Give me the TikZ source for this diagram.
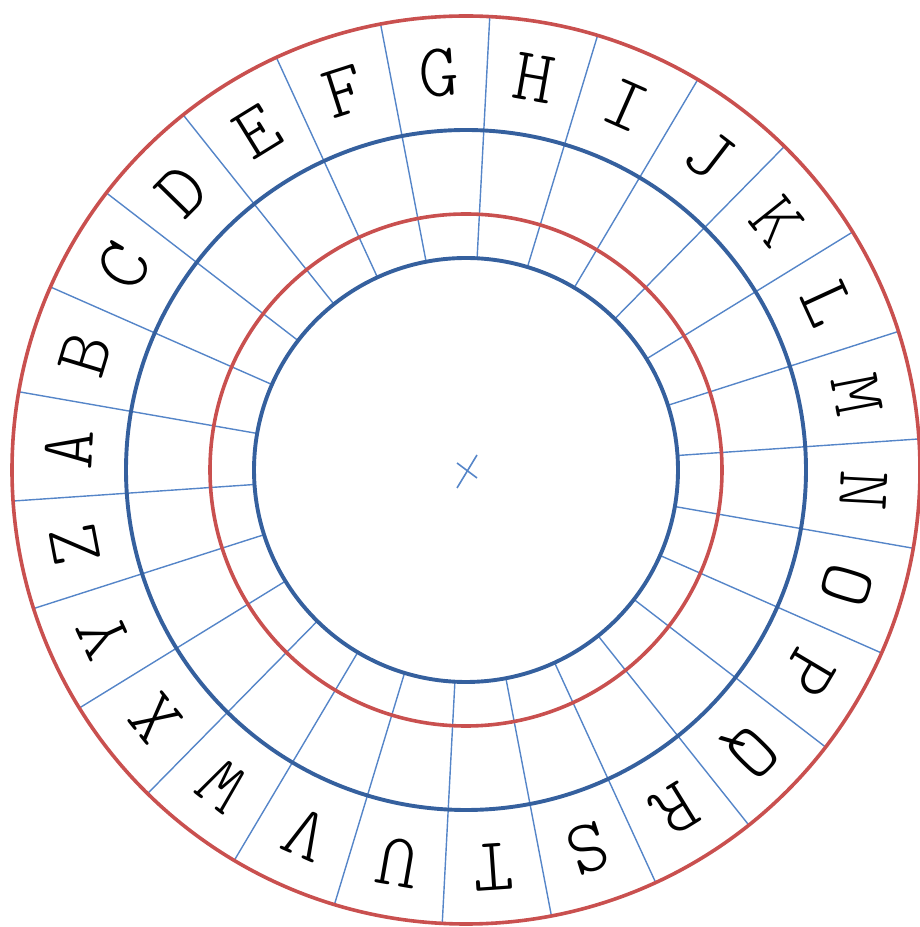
\documentclass[tikz,border=0pt]{standalone}
\usetikzlibrary{calc}
\definecolor{ringred}{HTML}{C9504F}
\definecolor{ringblue}{HTML}{35609E}
\definecolor{spokeblue}{HTML}{5585C8}
\tikzset{
  redring/.style={draw=ringred,line width=3.6pt},
  bluering/.style={draw=ringblue,line width=3.9pt},
  spoke/.style={draw=spokeblue,line width=1.4pt},
  letter/.style={inner sep=0pt,font=\ttfamily\fontseries{l}\fontsize{76}{76}\selectfont,text=black}
}
\begin{document}
\begin{tikzpicture}[x=1pt,y=1pt]
\useasboundingbox (0,0) rectangle (919,927);
\coordinate (O) at (466,457);
% spokes
\foreach \k in {0,...,25}{
  \pgfmathsetmacro{\ang}{183.92-13.846*\k}
  \draw[spoke] ($(O)+(\ang:211)$) -- ($(O)+(\ang:455)$);
}
% rings
\draw[redring] (O) circle[radius=454];
\draw[bluering] (O) circle[radius=340];
\draw[redring] (O) circle[radius=256];
\draw[bluering] (O) circle[radius=212];
% letters
\foreach \ch [count=\i from 0] in {A,B,C,D,E,F,G,H,I,J,K,L,M,N,O,P,Q,R,S,T,U,V,W,X,Y,Z}{
  \pgfmathsetmacro{\ang}{177-13.846*\i}
  \node[letter,rotate=\ang-90] (L\i) at ($(O)+(\ang:398)$) {\ch};
}
% centre mark
\coordinate (c1) at (457,439);
\coordinate (c2) at (477,472);
\coordinate (c3) at (457,464);
\coordinate (c4) at (477,449);
\draw[draw=spokeblue,line width=1.6pt] (c1) -- (c2);
\draw[draw=spokeblue,line width=1.6pt] (c3) -- (c4);
\end{tikzpicture}
\end{document}
